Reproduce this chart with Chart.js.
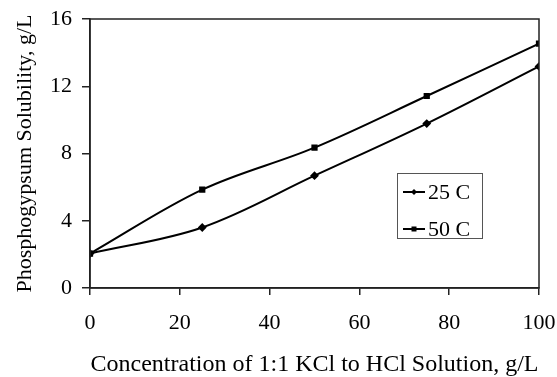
<!DOCTYPE html>
<html>
<head>
<meta charset="utf-8">
<script src="https://cdn.jsdelivr.net/npm/chart.js@4/dist/chart.umd.min.js"></script>
<style>
    html, body { margin: 0; padding: 0; background: #fff; }
    #wrap { width: 557px; height: 377px; }
</style>
</head>
<body>
<div id="wrap"><canvas id="solChart" width="557" height="377"></canvas></div>
<script>
// solubility vs. acid concentration
const concentration = [0, 25, 50, 75, 100];
const sol25 = [2.05, 3.6, 6.68, 9.78, 13.18];
const sol50 = [2.05, 5.85, 8.35, 11.42, 14.53];
const xTicks = [0, 20, 40, 60, 80, 100];
const yTicks = [0, 4, 8, 12, 16];

const serif = "'Liberation Serif', 'Times New Roman', serif";

function toPoints(xs, ys) {
    return xs.map((x, i) => ({ x: x, y: ys[i] }));
}

// frame round the plot plus a boxed legend inside it
const boxLegend = {
    id: "boxLegend",
    afterDraw(chart) {
        const ctx = chart.ctx;
        const a = chart.chartArea;
        ctx.save();
        ctx.strokeStyle = "#222";
        ctx.lineWidth = 1.5;
        ctx.strokeRect(a.left, a.top, a.right - a.left, a.bottom - a.top);

        const bx = 397, by = 173, bw = 85, bh = 65;
        ctx.lineWidth = 1;
        ctx.strokeStyle = "#555";
        ctx.fillStyle = "#fff";
        ctx.fillRect(bx, by, bw, bh);
        ctx.strokeRect(bx + 0.5, by + 0.5, bw, bh);

        chart.data.datasets.forEach((ds, i) => {
            const cy = by + 19 + i * 37;
            ctx.strokeStyle = "#000";
            ctx.lineWidth = 2;
            ctx.beginPath();
            ctx.moveTo(bx + 6, cy);
            ctx.lineTo(bx + 28, cy);
            ctx.stroke();
            ctx.fillStyle = "#000";
            if (ds.pointStyle === "rect") {
                ctx.fillRect(bx + 14.5, cy - 2.5, 5, 5);
            } else {
                ctx.beginPath();
                ctx.moveTo(bx + 17, cy - 3);
                ctx.lineTo(bx + 20, cy);
                ctx.lineTo(bx + 17, cy + 3);
                ctx.lineTo(bx + 14, cy);
                ctx.closePath();
                ctx.fill();
            }
            ctx.font = "22px " + serif;
            ctx.textBaseline = "middle";
            ctx.fillText(ds.label, bx + 31, cy + 1);
        });
        ctx.restore();
    }
};

new Chart(document.getElementById("solChart").getContext("2d"), {
    type: "line",
    data: {
        datasets: [{
            label: "25 C",
            data: toPoints(concentration, sol25),
            borderColor: "#000",
            backgroundColor: "#000",
            borderWidth: 2,
            pointStyle: "rectRot",
            pointRadius: 3,
            tension: 0.35,
            fill: false
        }, {
            label: "50 C",
            data: toPoints(concentration, sol50),
            borderColor: "#000",
            backgroundColor: "#000",
            borderWidth: 2,
            pointStyle: "rect",
            pointRadius: 3,
            tension: 0.35,
            fill: false
        }]
    },
    options: {
        responsive: false,
        animation: false,
        layout: { padding: { top: 19, right: 18, left: 0, bottom: 0 } },
        plugins: {
            legend: { display: false },
            tooltip: { enabled: false }
        },
        scales: {
            x: {
                type: "linear",
                min: 0,
                max: 100,
                afterBuildTicks: s => { s.ticks = xTicks.map(v => ({ value: v })); },
                afterFit: s => { s.height = 89; s.paddingRight = 0; s.paddingLeft = 0; },
                grid: { drawOnChartArea: false, tickLength: 7, tickColor: "#222", lineWidth: 1.5 },
                border: { color: "#222", width: 1.5 },
                ticks: { color: "#000", font: { family: serif, size: 22 }, padding: 15, maxRotation: 0 },
                title: {
                    display: true,
                    text: "Concentration of 1:1 KCl to HCl Solution, g/L",
                    color: "#000",
                    font: { family: serif, size: 24, lineHeight: 1 },
                    padding: { top: 4, bottom: 0 }
                }
            },
            y: {
                min: 0,
                max: 16,
                afterBuildTicks: s => { s.ticks = yTicks.map(v => ({ value: v })); },
                afterFit: s => { s.width = 90; s.paddingTop = 0; s.paddingBottom = 0; },
                grid: { drawOnChartArea: false, tickLength: 8, tickColor: "#222", lineWidth: 1.5 },
                border: { color: "#222", width: 1.5 },
                ticks: { color: "#000", font: { family: serif, size: 22 }, padding: 10 },
                title: {
                    display: true,
                    text: "Phosphogypsum Solubility, g/L",
                    color: "#000",
                    font: { family: serif, size: 22 },
                    padding: { top: 12, bottom: 0 }
                }
            }
        }
    },
    plugins: [boxLegend]
});
</script>
</body>
</html>
